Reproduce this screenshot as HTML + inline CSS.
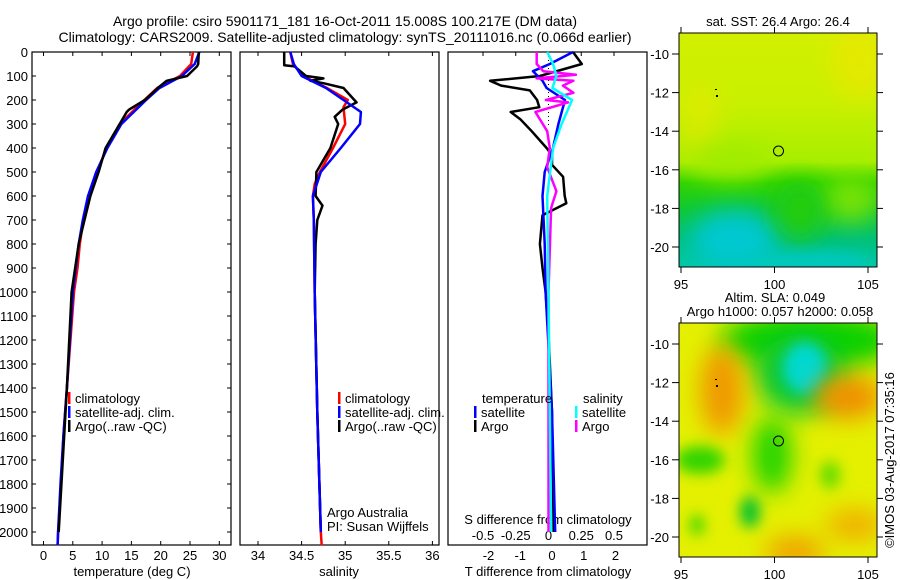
<!DOCTYPE html>
<html><head><meta charset="utf-8"><style>
html,body{margin:0;padding:0;background:#fff;}
svg{display:block;font-family:"Liberation Sans",sans-serif;}
text{font-size:13px;fill:#000;}
</style></head><body>
<svg id="fig" width="900" height="580" viewBox="0 0 900 580">
<defs>
 <linearGradient id="sstg" x1="0" y1="0" x2="0" y2="1">
  <stop offset="0" stop-color="#d2f000"/>
  <stop offset="0.3" stop-color="#c8f000"/>
  <stop offset="0.55" stop-color="#a8ee00"/>
  <stop offset="0.64" stop-color="#30d400"/>
  <stop offset="0.75" stop-color="#10c830"/>
  <stop offset="0.88" stop-color="#00c078"/>
  <stop offset="1" stop-color="#00c8a8"/>
 </linearGradient>
 <filter id="bl" x="-100%" y="-100%" width="300%" height="300%"><feGaussianBlur stdDeviation="12"/></filter>
 <filter id="bl2" x="-100%" y="-100%" width="300%" height="300%"><feGaussianBlur stdDeviation="7"/></filter>
 <clipPath id="c1"><rect x="679" y="33" width="198" height="234"/></clipPath>
 <clipPath id="c2"><rect x="679" y="323" width="198" height="234"/></clipPath>
</defs>
<text x="345" y="26" text-anchor="middle" style="font-size:14px">Argo profile: csiro 5901171_181 16-Oct-2011 15.008S 100.217E (DM data)</text>
<text x="345" y="42" text-anchor="middle" style="font-size:14px">Climatology: CARS2009. Satellite-adjusted climatology: synTS_20111016.nc (0.066d earlier)</text>
<g id="panels"></g>
<g>
 <text x="778" y="26" text-anchor="middle">sat. SST: 26.4 Argo: 26.4</text>
 <g clip-path="url(#c1)">
  <rect x="679" y="33" width="198" height="234" fill="url(#sstg)"/>
  <ellipse cx="860" cy="60" rx="30" ry="40" fill="#e8e800" filter="url(#bl)" opacity="0.8"/>
  <ellipse cx="700" cy="120" rx="20" ry="40" fill="#e8e800" filter="url(#bl)" opacity="0.6"/>
  <ellipse cx="730" cy="160" rx="40" ry="18" fill="#a0ec00" filter="url(#bl)"/>
  <ellipse cx="850" cy="200" rx="30" ry="22" fill="#90e800" filter="url(#bl)" opacity="0.8"/>
  <ellipse cx="735" cy="240" rx="45" ry="30" fill="#00c8d0" filter="url(#bl)"/>
  <ellipse cx="800" cy="210" rx="25" ry="30" fill="#20cc10" filter="url(#bl)"/>
  <ellipse cx="810" cy="262" rx="60" ry="10" fill="#00c8c0" filter="url(#bl2)"/>
 </g>
 <rect x="679" y="33" width="198" height="234" fill="none" stroke="#000"/>
 <circle cx="778.5" cy="151" r="5" fill="none" stroke="#000"/>
 <rect x="715" y="89" width="2" height="1" fill="#000"/><rect x="716" y="95" width="2" height="2" fill="#000"/>
 <g id="map1ticks"></g>
</g>
<g>
 <text x="775" y="302" text-anchor="middle">Altim. SLA: 0.049</text>
 <text x="780" y="316" text-anchor="middle">Argo h1000: 0.057 h2000: 0.058</text>
 <g clip-path="url(#c2)">
  <rect x="679" y="323" width="198" height="234" fill="#e4f000"/>
  <ellipse cx="810" cy="340" rx="90" ry="30" fill="#10d000" filter="url(#bl)"/>
  <ellipse cx="800" cy="375" rx="45" ry="40" fill="#10c830" filter="url(#bl)"/>
  <ellipse cx="805" cy="368" rx="22" ry="26" fill="#00d8d0" filter="url(#bl2)"/>
  <ellipse cx="722" cy="390" rx="22" ry="45" fill="#f09800" filter="url(#bl)"/>
  <ellipse cx="848" cy="397" rx="35" ry="22" fill="#f09000" filter="url(#bl)"/>
  <ellipse cx="772" cy="455" rx="20" ry="38" fill="#20d400" filter="url(#bl)"/>
  <ellipse cx="700" cy="460" rx="25" ry="14" fill="#30d400" filter="url(#bl2)"/>
  <ellipse cx="750" cy="512" rx="10" ry="16" fill="#00c030" filter="url(#bl2)"/>
  <ellipse cx="697" cy="525" rx="7" ry="10" fill="#30d400" filter="url(#bl2)"/>
  <ellipse cx="795" cy="552" rx="30" ry="16" fill="#f0a000" filter="url(#bl)"/>
  <ellipse cx="855" cy="525" rx="30" ry="16" fill="#f0b000" filter="url(#bl)"/>
  <ellipse cx="830" cy="475" rx="10" ry="14" fill="#60dc00" filter="url(#bl2)"/>
 </g>
 <rect x="679" y="323" width="198" height="234" fill="none" stroke="#000"/>
 <circle cx="778.5" cy="441" r="5" fill="none" stroke="#000"/>
 <rect x="715" y="379" width="2" height="1" fill="#000"/><rect x="716" y="385" width="2" height="2" fill="#000"/>
 <g id="map2ticks"></g>
</g>
<text transform="translate(894,460) rotate(-90)" text-anchor="middle">©IMOS 03-Aug-2017 07:35:16</text>
</svg>
<script>
// ---- data ----
const depthTicks=[0,100,200,300,400,500,600,700,800,900,1000,1100,1200,1300,1400,1500,1600,1700,1800,1900,2000];
const tempTicks=[0,5,10,15,20,25,30];
const salTicks=[34,34.5,35,35.5,36];
const tdTicks=[-2,-1,0,1,2];
const sdTicks=[-0.5,-0.25,0,0.25,0.5];
const sdTickLabels=["-0.5","-0.25","0","0.25","0.5"];
const tClimDepth=[0,50,100,150,200,300,400,500,600,700,800,900,1000,1400,1600,1800,2000,2055];
const tClim=[25.5,25.2,23.3,19.4,17.2,13,10.8,9.1,7.7,6.8,6.2,5.8,5.2,4.0,3.4,3.0,2.5,2.4];
const tSatDepth=[0,50,100,150,200,300,400,500,600,700,800,1000,1400,1600,1800,2000,2055];
const tSat=[26.6,25.8,23.6,19.8,17.5,13.3,10.9,9.0,7.6,6.7,6.0,5.0,4.0,3.4,2.9,2.5,2.4];
const tArgoDepth=[0,50,60,100,120,150,200,240,250,300,400,500,600,700,800,1000,1400,2000];
const tArgo=[26.5,26.4,26.2,24.5,21,19.5,17.3,14.6,14.2,13,10.6,9.4,8.0,7.0,6.0,4.8,4.0,2.6];
const sClimDepth=[0,50,100,150,200,230,300,400,500,550,600,700,1000,1500,2000,2055];
const sClim=[34.37,34.4,34.52,34.79,35.03,34.98,35.0,34.86,34.71,34.65,34.63,34.64,34.65,34.68,34.72,34.73];
const sSatDepth=[0,50,100,150,200,250,300,400,500,600,700,1000,1500,2000];
const sSat=[34.37,34.41,34.5,34.78,34.98,35.18,35.17,34.95,34.72,34.63,34.64,34.65,34.68,34.72];
const sArgoDepth=[0,55,60,100,110,120,130,150,210,240,270,300,400,500,600,640,700,800,1000,1500,2000];
const sArgo=[34.3,34.3,34.42,34.55,34.75,34.6,34.75,34.98,35.13,34.97,34.88,34.92,34.83,34.67,34.66,34.74,34.68,34.66,34.65,34.68,34.72];
const dTSatDepth=[0,50,80,120,150,200,300,400,500,600,800,1000,1500,2000];
const dTSat=[0.66,-0.07,-0.6,-0.3,-0.17,0.41,0.2,0.03,-0.23,-0.3,-0.23,-0.2,0,0.1];
const dTArgoDepth=[0,50,100,120,140,160,200,230,250,280,330,400,430,470,520,600,630,680,800,900,1000,1200,1500,2000];
const dTArgo=[0.66,0.94,-0.38,-1.95,-1.6,-0.7,-0.47,-0.4,-1.3,-1.0,-0.64,-0.17,0,0,0.35,0.4,0.45,-0.3,-0.38,-0.3,-0.2,-0.1,0,0.05];
const dSSatDepth=[0,50,100,150,200,300,400,600,1000,2000];
const dSSat=[-0.01,0.035,0.06,0.03,0.18,0.1,0.035,-0.01,0,0.02];
const dSArgoDepth=[0,50,80,95,110,120,140,170,200,210,250,330,400,480,580,650,1000,2000];
const dSArgo=[-0.09,-0.09,-0.04,0.21,-0.09,0.19,0.11,0.19,-0.02,0.15,-0.1,-0.01,0.01,-0.01,0.06,0.02,0,0];
const latTicks=[-10,-12,-14,-16,-18,-20];
const lonTicks=[95,100,105];

// ---- axes ----
const yD=d=>52+d*0.24;
const xT=t=>43.5+t*5.86;
const xS=s=>258+(s-34)*87.2;
const xTD=t=>552+t*31.75;
const xSD=s=>548.5+s*131;
const NS='http://www.w3.org/2000/svg';
const G=document.getElementById('panels');
function mk(tag,attrs,parent){const e=document.createElementNS(NS,tag);for(const k in attrs)e.setAttribute(k,attrs[k]);(parent||G).appendChild(e);return e;}
function txt(x,y,s,anchor,parent){const t=mk('text',{x:x,y:y,'text-anchor':anchor||'middle'},parent);t.textContent=s;return t;}
function line(dep,val,fx,color,name){
 const pts=dep.map((d,i)=>fx(val[i]).toFixed(1)+','+yD(d).toFixed(1)).join(' ');
 const p=mk('polyline',{points:pts,fill:'none',stroke:color,'stroke-width':2.5,'stroke-linejoin':'round'});
 
 
}
const panels=[[32,231],[240,439],[448,647]];
panels.forEach((p,i)=>{const r=mk('rect',{x:p[0],y:52,width:p[1]-p[0],height:493,fill:'none',stroke:'#000','stroke-width':1.2});
 
 });
depthTicks.forEach(d=>{const y=yD(d);
 mk('line',{x1:32,y1:y,x2:36,y2:y,stroke:'#000'});mk('line',{x1:227,y1:y,x2:231,y2:y,stroke:'#000'});
 const t=txt(28,y+5,String(d),'end');
 
 });
function xticks(ticks,labels,fx,ly){ticks.forEach((v,i)=>{const x=fx(v);
 mk('line',{x1:x,y1:52,x2:x,y2:56,stroke:'#000'});mk('line',{x1:x,y1:541,x2:x,y2:545,stroke:'#000'});
 const t=txt(x,ly,labels[i]);
 
 });}
xticks(tempTicks,tempTicks.map(String),xT,560);
xticks(salTicks,salTicks.map(String),xS,560);
tdTicks.forEach(v=>{const t=txt(xTD(v),560,String(v));});
sdTicks.forEach((v,i)=>{const x=xSD(v);mk('line',{x1:x,y1:52,x2:x,y2:56,stroke:'#000'});
 const t=txt(x,540,sdTickLabels[i]);});
let a;
a=txt(132,576,'temperature (deg C)');
a=txt(339,576,'salinity');
a=txt(548,576,'T difference from climatology');
a=txt(548,524,'S difference from climatology');
a=txt(327,517,'Argo Australia','start');
a=txt(327,531,'PI: Susan Wijffels','start');
mk('line',{x1:548.5,y1:52,x2:548.5,y2:125,stroke:'#000','stroke-dasharray':'1,3'});
line(tClimDepth,tClim,xT,'#ff0000','temp-climatology-line');
line(tSatDepth,tSat,xT,'#0000ff','temp-satellite-line');
line(tArgoDepth,tArgo,xT,'#000000','temp-argo-line');
line(sClimDepth,sClim,xS,'#ff0000','sal-climatology-line');
line(sArgoDepth,sArgo,xS,'#000000','sal-argo-line');
line(sSatDepth,sSat,xS,'#0000ff','sal-satellite-line');
line(dTArgoDepth,dTArgo,xTD,'#000000','tdiff-argo-line');
line(dTSatDepth,dTSat,xTD,'#0000ff','tdiff-satellite-line');
line(dSArgoDepth,dSArgo,xSD,'#ff00ff','sdiff-argo-line');
line(dSSatDepth,dSSat,xSD,'#00ffff','sdiff-satellite-line');
function leg(x,y,color,label){mk('rect',{x:x,y:y-11,width:2.5,height:12,fill:color});
 const t=txt(x+7,y,label,'start');}
[[68,'#ff0000','climatology'],[68,'#0000ff','satellite-adj. clim.'],[68,'#000','Argo(..raw -QC)']].forEach((e,i)=>leg(e[0],403+i*14,e[1],e[2]));
[[338,'#ff0000','climatology'],[338,'#0000ff','satellite-adj. clim.'],[338,'#000','Argo(..raw -QC)']].forEach((e,i)=>leg(e[0],403+i*14,e[1],e[2]));
a=txt(482,403,'temperature','start');
a=txt(583,403,'salinity','start');
leg(474,417,'#0000ff','satellite');leg(474,431,'#000','Argo');
leg(575,417,'#00ffff','satellite');leg(575,431,'#ff00ff','Argo');
function mapTicks(gid,top){const g=document.getElementById(gid);
 const yL=l=>top+21+(-l-10)*19.3;const xL=l=>681+(l-95)*18.7;
 latTicks.forEach(l=>{const y=yL(l);mk('line',{x1:672,y1:y,x2:679,y2:y,stroke:'#000'},g);mk('line',{x1:877,y1:y,x2:883,y2:y,stroke:'#000'},g);
  const t=txt(669,y+5,String(l),'end',g);});
 lonTicks.forEach(l=>{const x=xL(l);mk('line',{x1:x,y1:top-6,x2:x,y2:top,stroke:'#000'},g);mk('line',{x1:x,y1:top+234,x2:x,y2:top+240,stroke:'#000'},g);
  const t=txt(x,top+256,String(l),'middle',g);});}
mapTicks('map1ticks',33);mapTicks('map2ticks',323);
</script>
</body></html>
